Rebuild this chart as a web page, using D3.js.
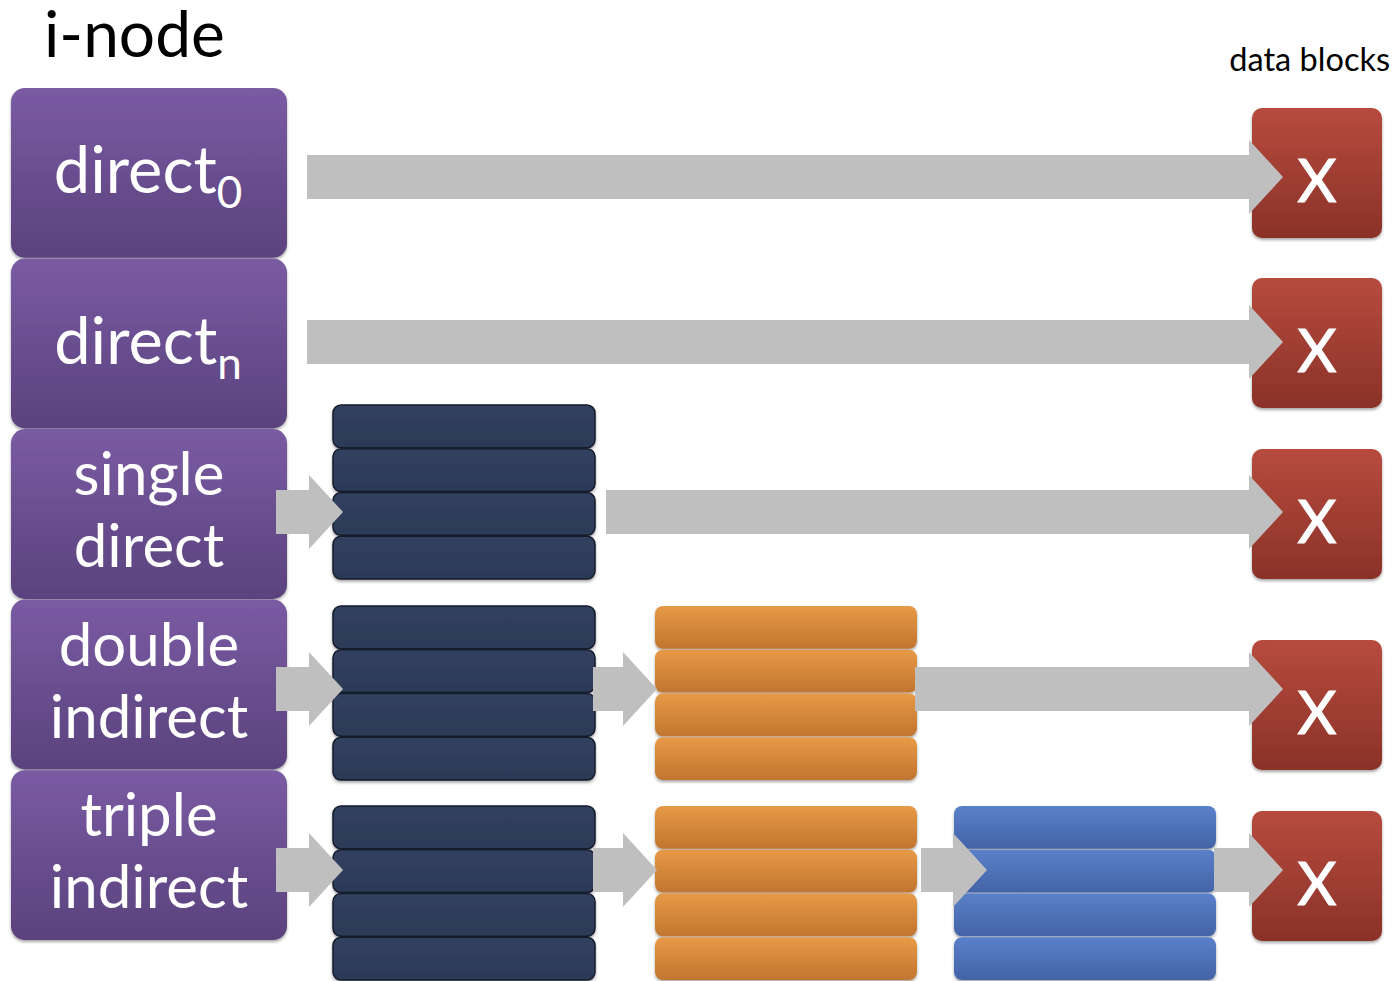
<!DOCTYPE html>
<html>
<head>
<meta charset="utf-8">
<script src="https://cdn.jsdelivr.net/npm/d3@7"></script>
<style>
  body { margin: 0; background: #fff; }
  text { font-family: Lato, "Open Sans", sans-serif; }
</style>
</head>
<body>
<svg id="chart" width="1395" height="981"></svg>
<script>
// i-node rows, top to bottom
const rowKeys = ['direct0', 'directn', 'single', 'double', 'triple'];
const rowLines = [['direct'], ['direct'], ['single', 'direct'], ['double', 'indirect'], ['triple', 'indirect']];
const rowSubs = ['0', 'n', '', '', ''];
// how many pointer blocks each row goes through before the data block
const rowLevels = [0, 0, 1, 2, 3];
const levelKeys = ['navy', 'orange', 'blue'];
const slatKeys = [0, 1, 2, 3];
const titleText = 'i-node';
const dataTitle = 'data blocks';
const dataMark = 'X';

const svg = d3.select('#chart');
const defs = svg.append('defs');

function gradient(id, top, bottom) {
  const g = defs.append('linearGradient').attr('id', id)
    .attr('x1', 0).attr('y1', 0).attr('x2', 0).attr('y2', 1);
  g.append('stop').attr('offset', '0%').attr('stop-color', top);
  g.append('stop').attr('offset', '100%').attr('stop-color', bottom);
}
gradient('g-purple', '#7a5ba3', '#5a427d');
gradient('g-red', '#b74b3e', '#8a3228');
gradient('g-navy', '#32415f', '#2c3a57');
gradient('g-orange', '#e79a46', '#c1752f');
gradient('g-blue', '#5a80ca', '#4363a6');

const shadow = defs.append('filter').attr('id', 'shadow')
  .attr('x', '-10%').attr('y', '-10%').attr('width', '120%').attr('height', '130%');
shadow.append('feDropShadow').attr('dx', 0).attr('dy', 2).attr('stdDeviation', 1.5)
  .attr('flood-color', '#000').attr('flood-opacity', 0.35);

// layout scales
const yRow = d3.scaleBand().domain(rowKeys).range([88, 940]).paddingInner(0.004);
const xNode = d3.scaleLinear().domain([0, 1]).range([11, 287]);
const yArrow = d3.scaleOrdinal().domain(rowKeys).range([177, 342, 512, 689, 870]);
const yStack = d3.scaleOrdinal().domain(rowKeys).range([0, 0, 405, 606, 806]);
const yData = d3.scaleOrdinal().domain(rowKeys).range([108, 278, 449, 640, 811]);
const xLevel = d3.scaleOrdinal().domain(levelKeys).range([333, 655, 954]);
const levelWidth = 262;
const ySlat = d3.scaleBand().domain(slatKeys).range([0, 175]).paddingInner(0.0);
const xData = d3.scaleLinear().domain([0, 1]).range([1252, 1382]);

// i-node boxes
const rows = svg.append('g').selectAll('g')
  .data(rowKeys.map((k, i) => ({ key: k, lines: rowLines[i], sub: rowSubs[i], levels: rowLevels[i] })))
  .join('g');

rows.append('rect')
  .attr('x', xNode(0)).attr('y', d => yRow(d.key))
  .attr('width', xNode(1) - xNode(0)).attr('height', yRow.bandwidth())
  .attr('rx', 14)
  .attr('fill', 'url(#g-purple)')
  .attr('filter', 'url(#shadow)');

rows.each(function (d) {
  const g = d3.select(this);
  const cx = (xNode(0) + xNode(1)) / 2;
  const top = yRow(d.key);
  if (d.lines.length === 1) {
    const t = g.append('text')
      .attr('x', cx - 1).attr('y', top + 105)
      .attr('text-anchor', 'middle')
      .attr('fill', '#fff').attr('font-size', 65);
    t.append('tspan').text(d.lines[0]);
    t.append('tspan').attr('font-size', 44).attr('dy', 15).text(d.sub);
  } else {
    d.lines.forEach((line, i) => {
      g.append('text')
        .attr('x', cx).attr('y', top + 66 + i * 72)
        .attr('text-anchor', 'middle')
        .attr('fill', '#fff').attr('font-size', 60)
        .text(line);
    });
  }
});

// pointer blocks
const stacks = [];
rowKeys.forEach((k, i) => {
  levelKeys.slice(0, rowLevels[i]).forEach(l => stacks.push({ row: k, level: l }));
});

const stackG = svg.append('g').selectAll('g')
  .data(stacks)
  .join('g')
  .attr('transform', d => 'translate(' + xLevel(d.level) + ',' + yStack(d.row) + ')');

stackG.selectAll('rect')
  .data(d => slatKeys.map(s => ({ slat: s, level: d.level })))
  .join('rect')
  .attr('x', 0).attr('y', s => ySlat(s.slat))
  .attr('width', levelWidth).attr('height', ySlat.bandwidth() - 1)
  .attr('rx', 8)
  .attr('fill', s => 'url(#g-' + s.level + ')')
  .attr('stroke', s => s.level === 'navy' ? '#151c2c' : 'none')
  .attr('stroke-width', 1.5)
  .attr('filter', 'url(#shadow)');

// data blocks
const dataG = svg.append('g').selectAll('g')
  .data(rowKeys)
  .join('g')
  .attr('transform', k => 'translate(' + xData(0) + ',' + yData(k) + ')');

dataG.append('rect')
  .attr('width', xData(1) - xData(0)).attr('height', 130)
  .attr('rx', 10)
  .attr('fill', 'url(#g-red)')
  .attr('filter', 'url(#shadow)');

dataG.append('text')
  .attr('x', 65).attr('y', 94)
  .attr('text-anchor', 'middle')
  .attr('fill', '#fff').attr('font-size', 60)
  .attr('stroke', '#fff').attr('stroke-width', 1.2)
  .text(dataMark);

// arrows
function arrowPath(x0, tip, y) {
  const shaft = 22, head = 37, len = 34;
  const hb = tip - len;
  return 'M' + x0 + ',' + (y - shaft) + 'L' + hb + ',' + (y - shaft) + 'L' + hb + ',' + (y - head) +
    'L' + tip + ',' + y + 'L' + hb + ',' + (y + head) + 'L' + hb + ',' + (y + shaft) +
    'L' + x0 + ',' + (y + shaft) + 'Z';
}

const tipInset = { navy: 10, orange: 2, blue: 33, data: 31 };
const arrows = [];
rowKeys.forEach((k, i) => {
  const path = ['node'].concat(levelKeys.slice(0, rowLevels[i])).concat(['data']);
  for (let j = 0; j < path.length - 1; j++) {
    const from = path[j], to = path[j + 1];
    let x0;
    if (from === 'node') x0 = xNode(1) + (to === 'data' ? 20 : -11);
    else if (from === 'navy') x0 = xLevel(from) + levelWidth + (to === 'data' ? 11 : -2);
    else x0 = xLevel(from) + levelWidth + (from === 'orange' && to === 'blue' ? 4 : -2);
    const tip = (to === 'data' ? xData(0) : xLevel(to)) + tipInset[to];
    arrows.push({ row: k, x0: x0, tip: tip });
  }
});

svg.append('g').selectAll('path')
  .data(arrows)
  .join('path')
  .attr('d', a => arrowPath(a.x0, a.tip, yArrow(a.row)))
  .attr('fill', '#bfbfbf');

// titles
svg.append('text')
  .attr('x', 44).attr('y', 57)
  .attr('fill', '#000').attr('font-size', 64)
  .text(titleText);

svg.append('text')
  .attr('x', 1390).attr('y', 71)
  .attr('text-anchor', 'end')
  .attr('fill', '#000').attr('font-size', 32.5)
  .text(dataTitle);
</script>
</body>
</html>
